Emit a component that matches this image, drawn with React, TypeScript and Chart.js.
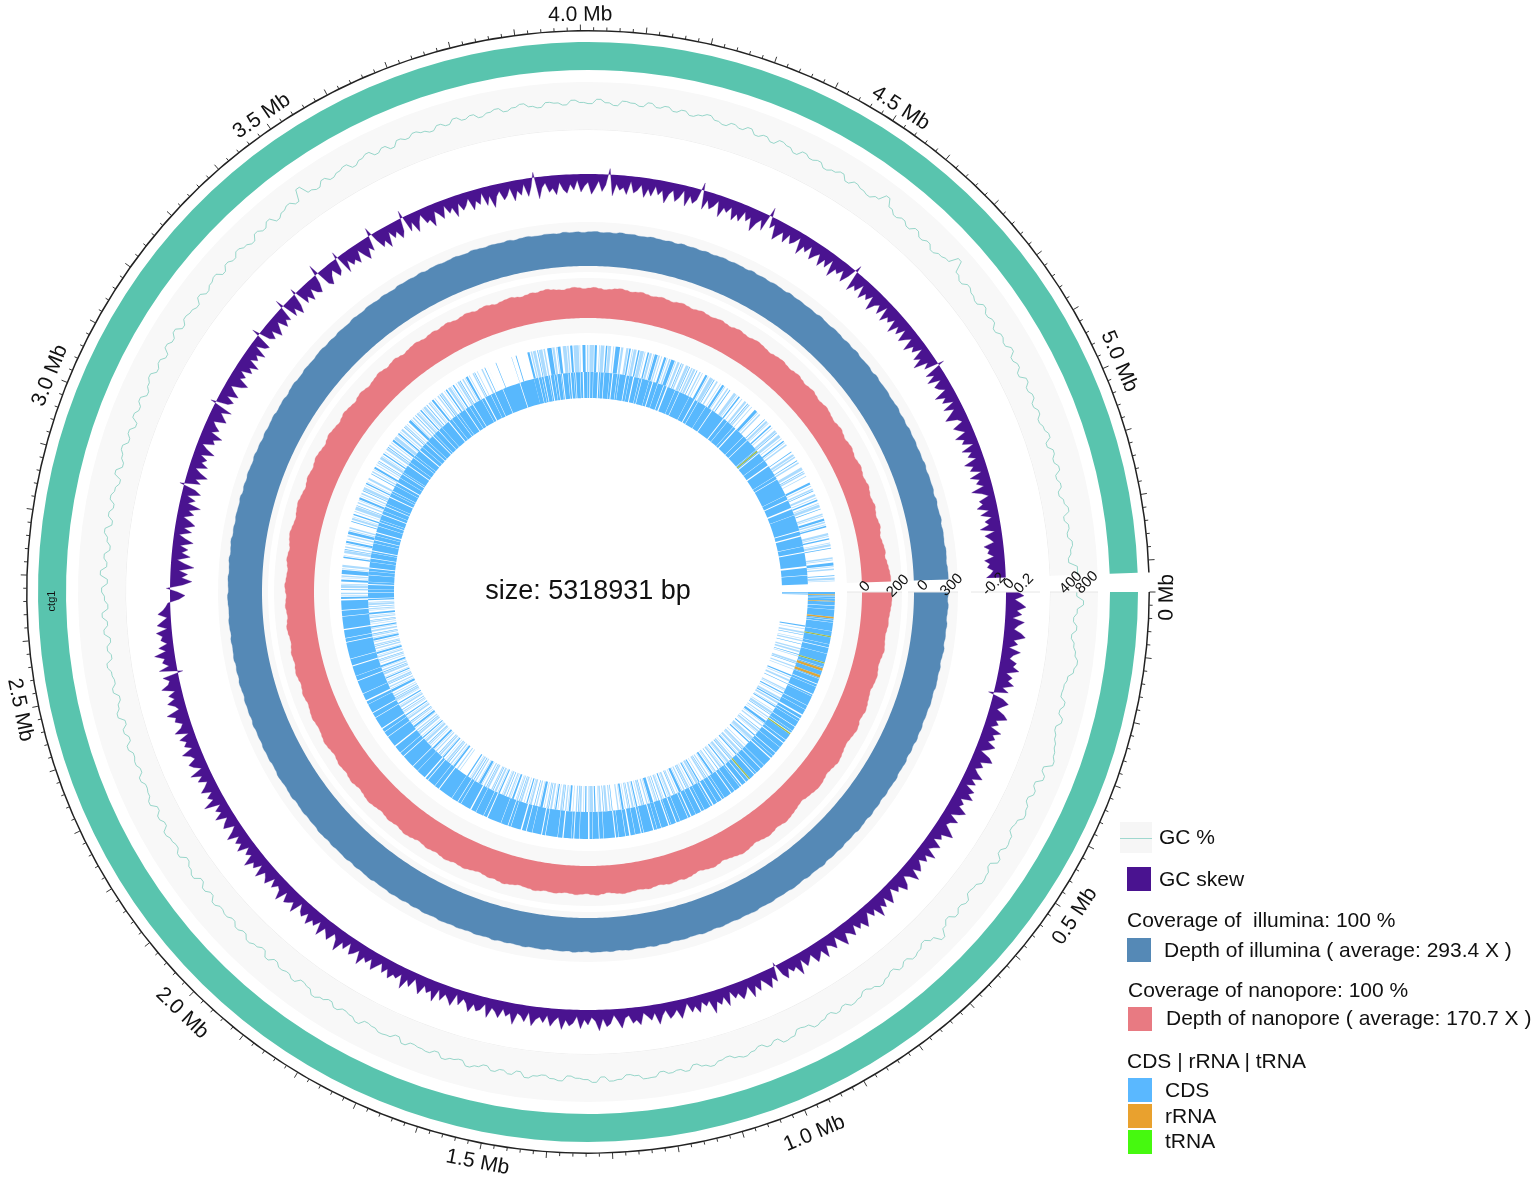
import React, { useEffect, useRef } from 'react';
import { Chart, registerables } from 'chart.js';

Chart.register(...registerables);

const genomeBp = 5318931;
const gapBp = 29714;
const binCount = 720;
const binMb = (genomeBp + gapBp) / binCount / 1e6;
const binLabels = Array.from({ length: binCount }, (_, i) => (i * binMb).toFixed(3));

const majorTickLabels = ['0 Mb', '0.5 Mb', '1.0 Mb', '1.5 Mb', '2.0 Mb', '2.5 Mb', '3.0 Mb', '3.5 Mb', '4.0 Mb', '4.5 Mb', '5.0 Mb'];
const majorTickMb = [0.008, 0.5, 1, 1.5, 1.99, 2.5, 3, 3.5, 4, 4.5, 5];
const majorLabelRadius = [579, 585, 587, 581, 585, 580, 580, 577, 577, 576, 579];
const trackTicks = [
  { scale: 'nano', values: [0, 200], shift: [3, 3] },
  { scale: 'ill', values: [0, 300], shift: [9, 3] },
  { scale: 'skew', values: [-0.2, 0, 0.2], shift: [3, 3, 3] },
  { scale: 'gc', values: [400, 800], shift: [3, 3] },
];

const gcValues = [
  620,790,640,560,650,540,620,680,760,700,580,530,510,640,560,680,570,630,690,740,
  800,600,710,550,640,540,630,680,560,520,630,660,560,680,530,620,650,550,520,640,
  570,660,530,630,800,620,510,600,650,550,640,530,600,670,590,520,610,650,550,630,
  540,610,660,550,520,640,670,540,620,530,600,660,610,530,570,650,590,510,630,560,
  600,530,640,650,550,510,610,640,530,660,590,560,510,640,600,530,570,640,510,610,
  540,610,510,580,640,520,560,620,500,580,550,520,610,480,570,590,530,500,620,540,
  500,580,480,550,620,510,470,590,520,560,480,590,460,530,590,490,560,470,540,500,
  580,460,550,440,580,510,430,570,480,520,580,450,530,430,570,490,460,540,430,500,
  460,550,430,520,410,560,480,400,530,440,480,560,420,500,400,540,440,560,410,490,
  560,420,600,450,530,400,490,580,420,540,450,570,500,420,590,450,530,600,480,560,
  440,590,510,600,470,550,620,500,570,470,610,530,630,490,590,550,490,620,510,580,
  630,500,610,540,640,570,500,630,550,660,510,590,650,550,830,600,540,660,560,620,
  670,540,620,680,560,640,530,660,600,680,620,560,660,590,700,610,670,570,640,690,
  590,650,710,620,570,680,650,590,700,640,610,720,640,580,700,670,610,720,630,690,
  600,670,580,640,700,610,560,650,590,680,560,630,540,660,610,520,640,570,620,520,
  580,650,520,620,570,530,620,800,620,530,600,520,630,530,600,500,580,630,860,590,
  510,610,550,500,620,530,590,480,570,510,620,490,560,450,590,490,560,460,540,450,
  510,580,440,560,490,580,450,520,420,510,590,440,530,470,570,510,440,650,
];

const skewValues = [
  .16,.24,.12,.2,.27,.15,.22,.1,.26,.18,.13,.23,.29,.14,.2,.09,.25,.16,.12,.22,.18,.27,.11,.2,.15,.24,.1,.19,-.07,.14,.23,.16,.1,.21,.27,.13,.18,.09,.25,.15,
  .2,.12,.24,.17,.08,.22,.28,.13,.19,.1,.16,.25,.12,.2,.09,.23,.17,.26,.11,.18,.14,.27,.2,.1,.24,.15,.12,.21,.29,.14,.18,.09,.23,.16,.11,.26,.13,.2,.1,.17,
  .22,.12,.27,.15,.09,.2,.25,.13,.18,.07,.16,.24,.1,.21,.14,.28,.12,.19,.09,.17,.25,.14,.2,.1,.23,.16,.12,.27,.18,.08,.22,.15,.11,.26,.13,.19,.24,.1,.16,.21,
  .09,.28,.14,.18,.11,.23,.15,-.05,.2,.12,.25,.16,.09,.22,.13,.27,.1,.18,.24,.14,.19,.08,.26,.12,.21,.15,.3,.11,.17,.1,.23,.13,.2,.07,.16,.25,.12,.18,.22,.1,
  .16,.27,.11,.2,.14,.09,.24,.17,.21,.1,.13,.26,.16,.08,.19,.23,.12,.28,.15,.1,.2,.13,.25,.09,.18,.22,.14,.27,.11,.16,.24,.1,.2,.13,.17,.26,.09,.22,.15,.12,
  .28,.14,.19,.1,.23,.16,.12,.26,.09,.18,.21,.13,.25,.15,.1,.2,.07,.24,.17,.12,.22,.09,.27,.14,.19,.11,.25,.16,.08,.21,.13,.28,.1,.18,.15,.23,.12,.2,.09,.16,
  .24,.11,.19,.14,.27,.1,.17,.22,.08,.2,.13,.29,.15,.1,.23,.17,.12,.26,.09,.19,.14,.24,.11,.2,.16,.07,.25,.13,.18,.22,.1,.27,.15,.12,.2,.09,.23,.17,.13,.26,
  .1,.21,.16,.28,.12,.18,.09,.24,.14,.2,.11,.26,.15,.08,.22,.17,.1,.25,.13,.19,.09,.3,.14,.2,.11,.24,.16,.1,.21,.13,.27,.09,.18,.23,.12,.16,.26,.1,.19,.14,
  .22,.08,.25,.15,.11,.2,.17,.28,.1,.14,.23,.12,.19,.09,.26,.16,.13,.21,-.07,.24,.1,.18,.14,.27,.11,.2,.08,.16,.13,.21,.06,.19,.12,.05,.17,.1,.06,.03,
  -.12,-.2,-.1,.05,-.17,-.29,-.15,-.23,-.11,-.31,-.18,-.08,-.25,-.13,-.21,-.1,-.27,-.16,-.07,-.23,-.12,-.26,-.19,-.09,-.22,-.14,-.29,-.11,-.2,-.08,-.25,-.16,.06,-.21,-.13,-.28,-.17,-.09,-.24,-.14,
  -.2,-.1,-.27,-.15,-.07,-.22,-.18,-.29,-.12,-.21,-.14,-.09,-.25,-.19,-.13,-.26,.07,-.16,-.22,-.1,-.24,-.15,-.08,-.21,-.28,-.13,-.19,-.09,-.23,-.16,-.27,-.11,-.2,-.14,-.25,-.07,-.18,-.22,.1,-.15,
  -.21,-.11,-.25,-.17,-.09,-.23,-.15,-.2,.11,-.22,-.13,-.26,-.16,.08,-.21,-.14,-.24,-.1,-.19,-.23,-.12,.14,-.2,-.25,-.15,-.09,-.22,-.17,.09,-.26,-.11,-.21,-.16,-.24,-.08,-.19,-.27,-.13,-.2,.11,
  -.1,-.23,-.16,-.28,-.09,-.2,-.13,-.25,-.17,.1,-.22,-.11,-.27,-.15,-.07,-.21,-.18,-.29,-.1,-.16,-.24,-.08,-.2,-.14,-.28,-.11,-.22,-.17,-.09,-.26,-.15,-.21,-.07,-.25,-.13,-.3,-.16,-.1,-.23,-.18,
  -.09,-.27,-.14,-.21,-.07,-.24,-.12,.07,-.29,-.15,-.09,-.22,-.17,-.26,-.1,-.2,-.25,-.13,-.21,-.08,-.24,-.16,-.11,-.27,-.19,-.09,-.23,-.14,.08,-.28,-.12,-.2,-.16,-.25,-.07,-.22,-.18,-.1,-.26,-.14,
  -.23,-.09,-.2,-.13,-.29,-.16,-.1,-.24,-.18,-.07,-.27,-.12,-.21,-.15,.1,-.25,-.11,-.22,-.17,-.08,-.28,-.14,-.19,-.1,-.26,-.16,-.24,-.09,-.2,-.13,-.3,-.17,-.1,-.23,.12,-.15,-.08,-.27,-.19,-.12,
  -.24,-.1,-.21,-.16,-.07,-.28,-.14,-.2,-.09,-.25,-.17,-.11,-.26,-.13,-.22,-.08,-.29,-.15,-.19,-.1,-.24,-.12,.09,-.27,-.16,-.21,-.08,-.25,-.14,-.2,-.1,-.29,-.17,-.12,-.23,-.07,-.26,-.15,-.2,-.11,
  -.28,-.13,-.22,-.09,-.25,-.17,-.1,-.27,-.14,-.2,-.07,-.24,-.16,-.3,-.11,-.19,.08,-.23,-.13,-.26,-.09,-.21,-.17,-.1,-.28,-.15,-.22,-.08,-.25,-.12,-.2,-.29,-.14,-.09,-.24,-.18,-.11,-.27,-.16,-.21,
  -.07,-.25,-.13,-.2,-.1,-.28,-.17,-.23,-.09,-.26,-.14,-.2,-.11,-.29,-.16,-.08,-.22,-.18,-.27,-.12,-.24,-.1,-.2,-.15,-.28,-.09,-.23,-.17,-.12,-.26,-.19,-.22,-.14,-.27,-.2,-.24,-.16,-.2,-.26,
  null,null,null,
];

const illuminaDepth = [
  296,291,298,293,289,297,292,295,290,299,293,288,296,291,295,298,290,294,297,291,
  293,289,296,292,298,290,295,288,297,293,290,298,294,291,296,288,295,292,298,289,
  294,298,290,293,289,297,292,295,290,300,293,291,296,288,294,298,291,293,290,296,
  292,290,298,294,291,296,289,293,297,290,295,299,291,290,296,293,288,295,292,298,
  290,294,291,298,293,289,296,291,295,297,290,293,298,290,295,292,288,296,294,291,
  298,293,290,295,291,299,290,293,296,289,292,296,291,294,298,290,293,297,290,295,
  288,296,292,298,291,293,290,298,294,290,295,289,297,293,291,296,290,295,298,291,
  293,290,296,292,288,298,294,290,295,299,291,289,296,293,297,290,294,291,298,290,
  295,292,296,288,293,298,290,295,290,298,293,291,296,289,294,297,291,290,295,298,
  290,293,296,289,292,298,290,294,300,291,295,290,296,293,291,298,288,295,290,297,
  293,290,298,292,295,289,296,291,294,298,290,293,296,288,295,299,291,290,297,293,
  290,295,298,291,294,289,296,292,290,298,293,290,298,295,290,296,291,288,297,293,
  295,291,298,289,294,296,290,293,298,292,290,300,295,290,296,293,291,297,288,294,
  298,291,290,295,293,289,298,292,296,290,295,298,290,294,291,299,293,296,289,291,
  297,293,290,295,288,298,292,295,290,296,290,294,298,291,296,293,289,298,291,295,
  290,296,293,288,298,292,295,291,294,290,299,293,290,297,295,289,296,291,298,290,
  293,295,288,298,291,294,296,290,293,298,290,295,289,297,292,296,290,294,291,298,
  290,295,293,296,288,298,291,293,299,290,295,292,289,297,294,290,296,298,
];

const nanoporeDepth = [
  178,182,180,176,172,168,170,165,160,162,166,170,164,158,155,160,165,162,158,152,
  156,160,166,170,164,160,168,172,166,160,155,158,164,170,174,168,162,158,164,170,
  172,168,162,158,150,155,162,168,174,178,172,168,175,180,176,170,165,172,178,182,
  176,170,165,160,168,174,170,164,158,165,172,176,170,174,178,172,166,170,176,172,
  168,172,176,180,175,170,165,172,178,174,168,172,176,170,166,170,175,172,168,174,
  178,172,168,164,170,175,180,174,168,172,166,160,165,170,176,172,168,174,178,172,
  166,170,174,168,164,170,176,180,174,168,172,176,170,165,170,175,180,176,170,166,
  172,178,174,168,172,176,170,165,170,176,180,175,170,168,172,178,175,170,166,172,
  176,170,166,172,178,174,168,172,176,170,165,168,174,178,172,166,170,176,172,168,
  174,178,172,168,164,170,176,172,166,172,178,182,176,170,166,172,176,180,174,170,
  164,170,176,172,168,174,180,176,170,165,172,178,172,168,162,168,175,170,165,160,
  168,172,166,160,165,170,176,170,164,170,175,168,162,168,172,176,170,166,172,176,
  170,176,180,174,170,176,182,178,172,178,182,176,170,176,180,184,178,172,178,184,
  180,186,190,184,180,176,182,188,184,178,182,186,180,174,178,184,188,182,176,180,
  184,178,172,176,180,174,170,176,180,174,168,172,176,170,166,170,174,168,164,170,
  174,168,164,170,174,170,165,160,166,170,172,166,162,168,172,166,160,165,170,164,
  158,162,168,164,158,154,160,165,158,152,158,162,156,150,155,160,154,148,152,158,
  152,146,150,156,150,145,150,155,148,142,148,154,158,152,160,166,172,176,
];

// gene tracks, kb: gene, gap, gene, gap ...
const outerDense = [
  9,.6,3,.5,14,.8,7,.5,21,.7,4,.6,17,.5,26,.7,6,1.2,12,.5,18,2,7,.6,24,.8,10,1.6,5,.6,15,2,3,.7,20,1,8,.6,
  11,3,6,1.5,5,.7,12,1.2,9,.6,4,1.8,16,.8,6,2,10,.7,13,1.5,7,.6,5,2.2,18,.9,8,1.4,11,.7,4,1.9,14,.8,
  6,1.6,9,2.4,3,.8,12,1.1,7,2,15,.7,5,1.5,10,.9,8,2.6,4,1,13,.8,6,1.7,11,.7,9,2.2,5,1.2,16,.8,7,1.9,
  10,.7,3,2.4,14,1,8,.7,6,2,19,.9,4,1.6,11,.8,9,2.8,7,1,13,.7,5,2.1,22,.9,8,1.5,12,.7,6,3,17,.8,
  10,1.8,4,.7,15,2.4,9,.8,24,1.2,6,2,18,.7,11,1.6,8,2.8,20,.9,5,1.4,14,.7,28,2,7,1,16,.8,10,2.6,
  21,.9,6,1.5,13,.7,30,2.2,9,.8,17,1.4,5,2.5,19,.7,12,1.2,26,1.9,8,.8,15,2.7,22,1,11,.7,7,2.1,24,.9,
  10,1.5,18,.7,6,2.9,14,.9,27,1.3,9,.7,20,2.2,13,1,33,1.7,7,.8,16,2.4,25,.9,11,1.4,19,3,
];
const innerSparseStart = [3, 2, 2, 1, 1, 118];
const innerSparse = [
  2,3,1,4,3,2,1,5,1,2,2,4,1,6,2,2,3,3,1,2,1,7,3,1,1,4,2,3,1,9,2,2,1,3,3,4,1,8,2,1,1,3,2,2,1,4,3,1,2,2,
  3,3,1,1,2,5,1,2,4,1,1,4,2,2,1,3,4,1,1,3,2,5,1,2,3,1,1,4,2,3,5,1,1,2,2,6,1,3,3,1,1,3,4,2,1,1,2,4,1,2,
  3,1,1,3,4,1,1,2,2,3,1,1,3,3,1,4,2,1,1,2,3,1,1,3,2,2,1,1,3,4,1,3,2,1,4,2,1,1,2,3,1,2,3,1,1,3,2,2,1,1,
  4,2,1,3,2,1,1,4,3,1,1,2,2,3,1,1,3,3,1,2,2,1,1,3,5,1,1,2,2,4,1,1,3,2,1,3,2,1,1,2,3,3,1,1,2,3,1,2,3,1,
  1,3,2,8,1,2,2,3,4,2,1,3,3,1,1,4,2,2,6,1,1,3,2,2,1,3,3,1,1,2,2,4,1,3,3,1,1,2,2,3,1,1,3,3,1,2,2,1,1,3,
  3,2,1,1,2,3,1,2,4,1,1,3,2,2,1,4,3,1,1,2,2,3,1,3,3,1,1,2,2,1,1,3,3,2,1,1,2,3,1,2,3,1,1,4,2,1,1,2,3,2,
  1,1,2,4,3,1,1,2,2,3,1,1,4,1,1,3,2,2,1,2,3,1,1,3,2,14,1,3,2,4,3,1,1,2,2,3,1,1,3,2,1,3,2,1,1,2,3,1,1,4,
  2,2,1,1,3,3,1,2,2,1,1,3,4,1,1,2,2,2,1,3,3,1,1,2,2,3,1,1,3,2,1,2,2,1,1,4,3,1,1,2,2,3,1,1,2,2,1,3,3,1,
  1,2,2,3,1,1,3,1,1,2,2,2,1,3,4,1,1,2,2,3,1,1,3,2,1,2,2,1,1,3,3,1,1,2,2,2,1,1,3,3,1,2,2,1,1,3,2,1,1,2,
  3,1,1,3,2,2,1,1,2,3,1,2,3,1,1,2,2,1,1,3,3,2,1,1,2,3,1,2,2,1,1,3,2,1,1,2,3,3,1,1,2,2,1,2,3,1,1,3,2,1,
];
const innerDenseA = [
  13,1.4,7,.7,11,2.2,5,.8,16,1.2,9,.7,6,2.5,14,.8,8,1.6,12,.7,4,2.3,18,.9,7,1.5,10,.7,6,2.9,15,.8,9,1.3,5,.7,13,2,
  8,.8,11,1.7,6,.7,17,2.4,9,.9,5,1.4,14,.7,7,2.6,12,.8,10,1.5,4,.7,19,2.1,8,.9,13,1.3,6,.7,15,2.8,9,.8,11,1.6,
  7,.7,16,2.3,5,.9,12,1.4,10,.7,21,2.5,8,.8,14,1.2,6,.7,18,2,11,.8,9,1.6,24,.7,7,2.7,15,.9,10,1.3,
];
const innerDenseBlock = [32, 2, 68, 3, 55];
const innerDenseB = [
  10,1.2,6,.8,4,1.8,9,.7,3,2.2,7,.9,5,1.5,8,.7,2,2.4,11,1,4,2,6,.8,3,1.6,9,1.1,5,2.6,8,.7,4,1.9,
  6,1,10,2.4,3,.8,7,1.5,12,.7,5,2.3,9,1,4,.8,14,1.8,6,.7,8,2.6,11,.9,5,1.4,16,.7,7,2.2,10,.8,13,1.5,
  6,2.8,18,.8,9,1.3,24,.7,12,2.3,7,1,20,.7,15,1.7,30,2.4,9,.8,17,.7,6,2.6,22,.9,11,1.4,28,.7,8,2.2,
  19,.9,13,3,26,.8,7,1.5,40,.7,10,2.4,18,3.2,14,.8,36,2.2,9,3,22,.8,12,2.4,30,4,16,1.2,20,
];
const outerSparseA = [
  3,1,1,2,2,4,1,2,4,1,1,3,3,2,1,1,2,2,6,1,1,2,3,10,2,1,1,3,4,1,1,2,2,3,1,1,3,2,1,3,2,2,4,1,1,2,2,8,1,2,
  3,1,1,2,2,3,1,2,5,1,1,3,2,2,1,1,3,2,1,2,2,3,1,1,4,2,1,2,2,1,1,3,3,6,1,2,2,2,1,1,3,3,1,2,2,1,1,3,4,1,
  1,2,2,2,1,3,3,1,1,2,2,3,1,2,3,1,5,2,1,1,2,2,1,2,3,3,1,1,2,2,1,3,4,1,1,2,2,3,1,2,3,1,1,2,2,2,1,1,4,2,
  1,3,2,1,1,2,3,2,1,4,2,2,1,1,3,3,1,2,2,2,4,1,1,2,2,3,1,2,3,1,1,3,2,2,1,1,3,2,1,5,2,1,1,3,1,6,2,3,1,4,
];
const outerSparseEmpty = [0.1, 30, 2, 56, 1, 14, 3, 39];
const outerSparseB = [
  3,1.5,2,1,4,2,1,1,5,1.5,2,3,6,1,3,2,1,1,4,3,5,1,2,2,3,1.5,7,1,1,3,4,2,2,1.5,6,1,3,3,1,1,5,2,2,1,4,3,1,2,6,1.5,3,4,
  3,1,2,2,1,1,4,2,2,1,5,1,1,3,2,1,3,2,1,1,4,1,2,2,1,3,3,1,1,2,2,1,5,1,1,2,3,2,1,1,2,3,4,1,1,2,2,1,3,2,
  1,3,2,2,1,4,3,1,1,2,5,1,1,3,2,4,1,2,3,1,1,3,2,2,1,6,4,1,1,2,2,3,1,4,3,2,1,1,2,3,1,5,4,1,1,2,2,8,1,2,
  3,1,1,3,2,2,1,4,3,1,1,3,4,2,1,3,2,1,1,2,2,10,1,3,3,1,2,4,1,2,2,6,4,2,1,1,2,3,1,9,3,2,1,3,2,1,1,4,3,2,
  1,2,2,3,1,1,4,2,1,6,2,1,1,3,3,1,2,2,1,1,2,8,3,1,1,2,2,4,1,1,3,2,1,12,2,1,1,3,4,1,1,2,2,7,1,2,3,1,1,3,
];
const outerRna = [
  { startKb: 9, lenKb: 3, kind: 'rRNA' }, { startKb: 31, lenKb: 3, kind: 'rRNA' }, { startKb: 86, lenKb: 6, kind: 'rRNA' },
  { startKb: 153, lenKb: 5, kind: 'tRNA' }, { startKb: 246, lenKb: 5, kind: 'tRNA' }, { startKb: 268, lenKb: 9, kind: 'rRNA' },
  { startKb: 293, lenKb: 9, kind: 'rRNA' }, { startKb: 518, lenKb: 5, kind: 'tRNA' }, { startKb: 728, lenKb: 5, kind: 'tRNA' },
];
const innerRna = [{ startKb: 4755, lenKb: 6, kind: 'tRNA' }];

const COLORS = {
  teal: '#59C4AE', track: '#F8F8F8', border: '#EDEDED', axis: '#222222', gcLine: '#7FCDBE', skew: '#4A1390',
  illumina: '#5589B6', nanopore: '#E87A82', cds: '#58B8FD', cdsLight: 'rgba(88,184,253,0.5)', rRNA: '#DBA63A', tRNA: '#A2BC48',
};
const R = 562;
const CUTOUT = `${(194 / R) * 100}%`;
const CLEAR = 'rgba(0,0,0,0)';

type Iv = { s: number; e: number; c: string };
type Part = { segs: number[]; span: number; light?: boolean };
function buildTrack(parts: Part[], rna: { startKb: number; lenKb: number; kind: string }[]) {
  let iv: Iv[] = [];
  let pos = 0;
  parts.forEach(({ segs, span, light }) => {
    const total = segs.reduce((a, b) => a + b, 0);
    segs.forEach((len, i) => {
      const w = (len * span) / total;
      const gene = light && i % 6 !== 0 ? COLORS.cdsLight : COLORS.cds;
      iv.push({ s: pos, e: pos + w, c: i % 2 ? CLEAR : gene });
      pos += w;
    });
  });
  rna.forEach(({ startKb, lenKb, kind }) => {
    const end = startKb + lenKb;
    const next: Iv[] = [];
    iv.forEach((x) => {
      if (x.e <= startKb || x.s >= end) { next.push(x); return; }
      if (x.s < startKb) next.push({ s: x.s, e: startKb, c: x.c });
      if (x.e > end) next.push({ s: end, e: x.e, c: x.c });
    });
    next.push({ s: startKb, e: end, c: (COLORS as any)[kind] });
    next.sort((a, b) => a.s - b.s);
    iv = next;
  });
  iv.push({ s: pos, e: pos + gapBp / 1000, c: CLEAR });
  return { data: iv.map((x) => x.e - x.s), colors: iv.map((x) => x.c) };
}

function toBins(a: number[]) {
  const out: (number | null)[] = a.flatMap((v) => [v, v]);
  out.push(a[a.length - 1], null, null, null);
  return out;
}

function trackScale(r0: number, v0: number, r1: number, v1: number) {
  const k = (v1 - v0) / (r1 - r0);
  return {
    type: 'radialLinear', axis: 'r', display: false, startAngle: 90,
    min: v0 - r0 * k, max: v0 + (R - r0) * k,
    pointLabels: { display: false }, ticks: { display: false }, grid: { display: false }, angleLines: { display: false },
  };
}

function ring(weight: number, data: number[], backgroundColor: any) {
  return { type: 'doughnut', weight, data, backgroundColor, rotation: 90, cutout: CUTOUT, order: 5, borderWidth: 0 };
}
const whole = [genomeBp, gapBp];
function band(weight: number, color: string) {
  return ring(weight, whole, [color, CLEAR]);
}
function radial(data: any[], rAxisID: string, color: string, fillValue: number | null, width: number) {
  return {
    type: 'radar', label: rAxisID, data, rAxisID, weight: 0, order: 1, borderColor: color, borderWidth: width,
    backgroundColor: color, pointRadius: 0, tension: 0, spanGaps: false,
    fill: fillValue === null ? false : { value: fillValue },
  };
}

const circosAxis = {
  id: 'circosAxis',
  afterDatasetsDraw(chart: any) {
    const ctx = chart.ctx;
    const sc = chart.scales.gc;
    const at = (mb: number, d: number) => sc.getPointPosition(mb / binMb, d);
    ctx.save();
    ctx.strokeStyle = COLORS.axis;
    ctx.lineWidth = 0.9;
    for (let k = 0; k * 0.02 <= genomeBp / 1e6; k++) {
      const mb = k * 0.02;
      const len = k % 5 === 0 ? 5.5 : 2.8;
      const a = at(mb, R - 0.5);
      const b = at(mb, R + len);
      ctx.beginPath(); ctx.moveTo(a.x, a.y); ctx.lineTo(b.x, b.y); ctx.stroke();
    }
    ctx.strokeStyle = '#E6E6E6';
    ctx.lineWidth = 1;
    [[320, 370], [383, 452], [462, 510], [259, 314]].forEach(([i, o]) => {
      const a = at(0, i); const b = at(0, o);
      ctx.beginPath(); ctx.moveTo(a.x, a.y); ctx.lineTo(b.x, b.y); ctx.stroke();
    });
    ctx.fillStyle = '#111';
    ctx.textAlign = 'center';
    ctx.textBaseline = 'middle';
    ctx.font = '21px "Liberation Sans"';
    majorTickLabels.forEach((label, i) => {
      const p = at(majorTickMb[i], majorLabelRadius[i]);
      const theta = (p.angle * 180) / Math.PI;
      const th = ((theta % 360) + 360) % 360;
      const rot = th <= 180 ? th - 90 : th - 270;
      ctx.save(); ctx.translate(p.x, p.y); ctx.rotate((rot * Math.PI) / 180); ctx.fillText(label, 0, 0); ctx.restore();
    });
    ctx.font = '15px "Liberation Sans"';
    trackTicks.forEach(({ scale, values, shift }) => {
      const s = chart.scales[scale];
      values.forEach((v, i) => {
        const p = s.getPointPosition(717.8, s.getDistanceFromCenterForValue(v) + shift[i]);
        ctx.save(); ctx.translate(p.x, p.y); ctx.rotate(-Math.PI / 4); ctx.fillText(String(v), 0, 0); ctx.restore();
      });
    });
    const c = at(2.66, 536);
    ctx.font = '11px "Liberation Sans"';
    ctx.save(); ctx.translate(c.x, c.y); ctx.rotate(-Math.PI / 2); ctx.fillText('ctg1', 0, 0); ctx.restore();
    ctx.font = '27px "Liberation Sans"';
    ctx.fillText('size: 5318931 bp', sc.xCenter, sc.yCenter);
    ctx.restore();
  },
};

const legendFont: React.CSSProperties = { position: 'absolute', fontFamily: '"Liberation Sans", Arial, sans-serif', fontSize: 21, lineHeight: '24px', color: '#111', whiteSpace: 'pre' };
const legendTexts = [
  { text: 'GC %', x: 1159, y: 837 }, { text: 'GC skew', x: 1159, y: 879 },
  { text: 'Coverage of  illumina: 100 %', x: 1127, y: 920 }, { text: 'Depth of illumina ( average: 293.4 X )', x: 1164, y: 950 },
  { text: 'Coverage of nanopore: 100 %', x: 1128, y: 990 }, { text: 'Depth of nanopore ( average: 170.7 X )', x: 1166, y: 1018 },
  { text: 'CDS | rRNA | tRNA', x: 1127, y: 1061 }, { text: 'CDS', x: 1165, y: 1090 }, { text: 'rRNA', x: 1165, y: 1116 }, { text: 'tRNA', x: 1165, y: 1141 },
];
const legendSwatches = [
  { x: 1127, y: 867, c: '#4A1390' }, { x: 1127, y: 938, c: '#5589B6' }, { x: 1128, y: 1007, c: '#E87A82' },
  { x: 1128, y: 1078, c: '#5AB8FF' }, { x: 1128, y: 1104, c: '#E9A12E' }, { x: 1128, y: 1130, c: '#46F90F' },
];

export default function App() {
  const ref = useRef<HTMLCanvasElement>(null);
  useEffect(() => {
    const outer = buildTrack(
      [{ segs: outerDense, span: 2650 }, { segs: outerSparseA, span: 1005, light: true }, { segs: outerSparseEmpty, span: 145 }, { segs: outerSparseB, span: 1519, light: true }],
      outerRna,
    );
    const inner = buildTrack(
      [{ segs: innerSparseStart, span: 130 }, { segs: innerSparse, span: 2520, light: true }, { segs: innerDenseA, span: 990 }, { segs: innerDenseBlock, span: 160 }, { segs: innerDenseB, span: 1519 }],
      innerRna,
    );
    const chart = new Chart(ref.current as any, {
      type: 'radar',
      data: {
        labels: binLabels,
        datasets: [
          band(1.5, COLORS.axis),
          band(10.5, CLEAR),
          band(28, COLORS.teal),
          band(12, CLEAR),
          band(47.2, COLORS.track),
          band(0.8, COLORS.border),
          band(92, CLEAR),
          band(50, COLORS.track),
          band(6, CLEAR),
          band(55, COLORS.track),
          band(12, CLEAR),
          ring(27, outer.data, outer.colors),
          ring(26, inner.data, inner.colors),
          radial(toBins(gcValues), 'gc', COLORS.gcLine, null, 0.8),
          radial(skewValues, 'skew', COLORS.skew, 0, 0.3),
          radial(toBins(illuminaDepth), 'ill', COLORS.illumina, 0, 0.3),
          radial(toBins(nanoporeDepth), 'nano', COLORS.nanopore, 0, 0.3),
        ] as any,
      },
      options: {
        responsive: false,
        animation: false,
        events: [],
        layout: { padding: { left: 588 - R, top: 592 - R, right: 1536 - 588 - R, bottom: 1181 - 592 - R } },
        plugins: { legend: { display: false }, tooltip: { enabled: false }, title: { display: false } },
        scales: {
          gc: trackScale(480, 400, 496, 800),
          skew: trackScale(418, 0, 433, 0.2),
          ill: trackScale(326, 0, 360, 293.4),
          nano: trackScale(274, 0, 307, 200),
        } as any,
      } as any,
      plugins: [circosAxis],
    } as any);
    return () => chart.destroy();
  }, []);
  return (
    <div style={{ position: 'absolute', left: 0, top: 0, width: 1536, height: 1181, background: '#fff', overflow: 'hidden' }}>
      <canvas ref={ref} width={1536} height={1181} style={{ display: 'block' }} />
      <div style={{ position: 'absolute', left: 1120, top: 822, width: 32, height: 31, background: '#F6F6F6' }} />
      <div style={{ position: 'absolute', left: 1120, top: 838, width: 32, height: 1, background: '#9FD8CF' }} />
      {legendSwatches.map((s, i) => (
        <div key={i} style={{ position: 'absolute', left: s.x, top: s.y, width: 24, height: 24, background: s.c }} />
      ))}
      {legendTexts.map((t) => (
        <div key={t.text} style={{ ...legendFont, left: t.x, top: t.y - 12 }}>{t.text}</div>
      ))}
    </div>
  );
}
